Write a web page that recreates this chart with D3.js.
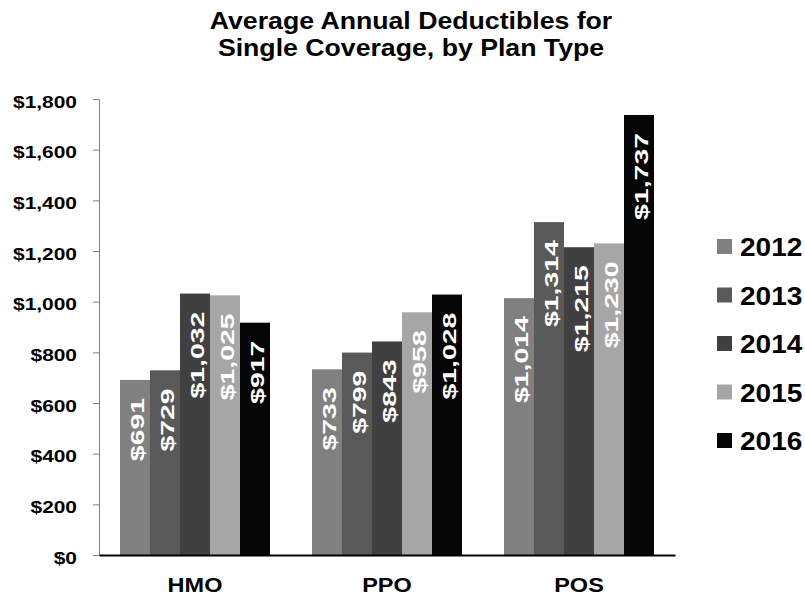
<!DOCTYPE html>
<html>
<head>
<meta charset="utf-8">
<script src="https://cdn.jsdelivr.net/npm/d3@7.9.0/dist/d3.min.js"></script>
<style>
  body { margin: 0; background: #fff; }
  text { font-family: Arial, "Liberation Sans", sans-serif; font-weight: bold; }
</style>
</head>
<body>
<svg id="chart" width="805" height="597"></svg>
<script>
// chart data
const planTypes = ["HMO", "PPO", "POS"];
const years = ["2012", "2013", "2014", "2015", "2016"];
const deductibles = {
  "2012": [691, 733, 1014],
  "2013": [729, 799, 1314],
  "2014": [1032, 843, 1215],
  "2015": [1025, 958, 1230],
  "2016": [917, 1028, 1737]
};
const yearColors = ["#808080", "#595959", "#404040", "#a6a6a6", "#050505"];
const yTicks = [0, 200, 400, 600, 800, 1000, 1200, 1400, 1600, 1800];

const svg = d3.select("#chart");
const margin = { top: 99, right: 130, bottom: 42, left: 99 };
const width = 675 - margin.left;
const height = 555 - margin.top;

const g = svg.append("g")
    .attr("transform", `translate(${margin.left},${margin.top})`);

// title (text in the original is drawn a bit wide, so stretch it horizontally)
const titleLines = ["Average Annual Deductibles for", "Single Coverage, by Plan Type"];
titleLines.forEach((line, i) => {
    svg.append("text")
        .attr("transform", `translate(411,${29 + i * 27}) scale(1.16,1)`)
        .attr("text-anchor", "middle")
        .style("font-size", "23px")
        .text(line);
});

// scales
const x0 = d3.scaleBand().domain(planTypes).range([0, width]);
const barW = 30;
const x1 = d3.scaleBand().domain(years).range([21, 21 + barW * years.length]);
const y = d3.scaleLinear().domain([0, 1800]).range([height, 0]);
const color = d3.scaleOrdinal().domain(years).range(yearColors);

const fmt = d3.format("$,");

// y axis
const yAxis = g.append("g")
    .call(d3.axisLeft(y).tickValues(yTicks).tickFormat(fmt).tickSizeInner(6).tickSizeOuter(0));
yAxis.select(".domain").attr("stroke", "#808080");
yAxis.selectAll(".tick line").attr("stroke", "#808080");
yAxis.selectAll(".tick text")
    .attr("x", null)
    .attr("dy", 8)
    .attr("transform", "translate(-22,0) scale(1.23,1)")
    .attr("text-anchor", "end")
    .attr("fill", "#000")
    .style("font-size", "17px");

// bars
const groups = g.selectAll(".plan")
    .data(planTypes)
    .enter().append("g")
    .attr("class", "plan")
    .attr("transform", d => `translate(${x0(d)},0)`);

const cells = groups.selectAll(".bar")
    .data((p, i) => years.map(yr => ({ year: yr, value: deductibles[yr][i] })))
    .enter();

cells.append("rect")
    .attr("x", d => x1(d.year))
    .attr("y", d => y(d.value))
    .attr("width", x1.bandwidth())
    .attr("height", d => height - y(d.value))
    .attr("fill", d => color(d.year));

// value labels, rotated inside the top of each bar
cells.append("text")
    .attr("transform", d => `translate(${x1(d.year) + x1.bandwidth() / 2 + 9},${y(d.value) + 18}) rotate(-90) scale(1.58,1)`)
    .attr("text-anchor", "end")
    .attr("fill", "#fff")
    .style("font-size", "18px")
    .text(d => fmt(d.value));

// x axis
const xAxis = g.append("g")
    .attr("transform", `translate(0,${height})`)
    .call(d3.axisBottom(x0).tickSize(0));
xAxis.select(".domain").attr("stroke", "#000").attr("stroke-width", 2);
xAxis.selectAll(".tick text")
    .attr("y", null)
    .attr("dy", null)
    .attr("transform", "translate(0,37) scale(1.12,1)")
    .attr("fill", "#000")
    .style("font-size", "21px");

// legend
const legend = svg.append("g").attr("transform", "translate(717,239)");
years.forEach((yr, i) => {
    const row = legend.append("g").attr("transform", `translate(0,${i * 48.5})`);
    row.append("rect")
        .attr("width", 15).attr("height", 15)
        .attr("fill", color(yr));
    row.append("text")
        .attr("transform", "translate(23,17) scale(1.12,1)")
        .style("font-size", "25px")
        .text(yr);
});
</script>
</body>
</html>
